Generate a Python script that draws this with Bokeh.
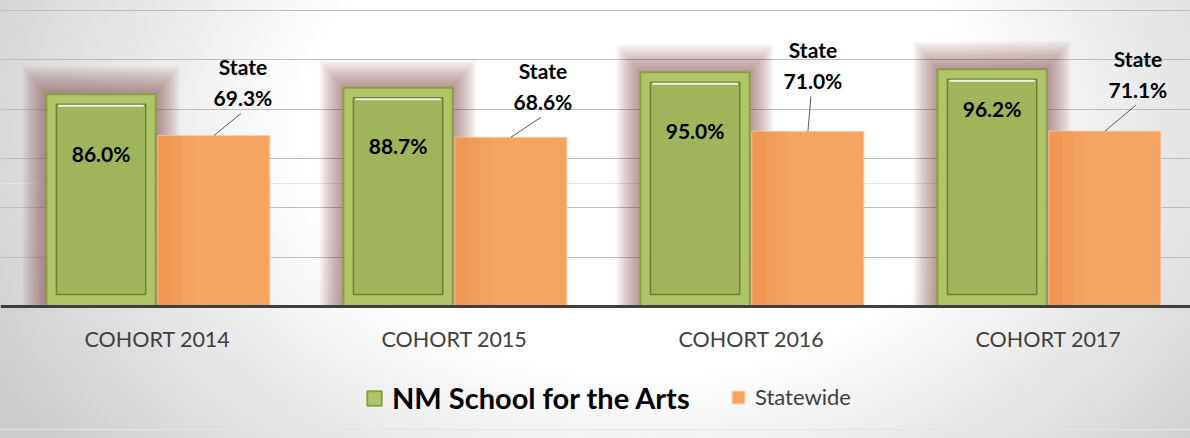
from bokeh.plotting import figure
from bokeh.models import Range1d, FixedTicker, Grid, Legend, LegendItem
from bokeh.core.properties import value
from bokeh.embed import file_html
from bokeh.resources import INLINE

# ---------------- data ----------------
categories = ["COHORT 2014", "COHORT 2015", "COHORT 2016", "COHORT 2017"]
nm_values = [86.0, 88.7, 95.0, 96.2]
state_values = [69.3, 68.6, 71.0, 71.1]
nm_labels = ["86.0%", "88.7%", "95.0%", "96.2%"]
state_labels = ["69.3%", "68.6%", "71.0%", "71.1%"]
state_tag = "State"
series_names = ["NM School for the Arts", "Statewide"]
grid_ticks = [20, 40, 60, 80, 100, 120]

# ---------------- layout / style ----------------
W, H = 1190, 438
BASE_PX = 306            # screen y of the zero line
PX_PER_CAT = 297.0
PX_PER_Y = (BASE_PX - 10) / 120.0
FIRST_CENTER_PX = 157
X_START = 0.5 - FIRST_CENTER_PX / PX_PER_CAT
X_END = X_START + W / PX_PER_CAT
Y_END = BASE_PX / PX_PER_Y
Y_START = -(H - BASE_PX) / PX_PER_Y

def px_x(px):
    return px / PX_PER_CAT

def px_y(px):
    return px / PX_PER_Y

NM_OFF, ST_OFF = -0.19, 0.19
NM_W, ST_W = 0.368, 0.377

NM_LABEL_DROP_PX = [59, 58, 58, 39]
STATE_DX_PX = [29, 32, 5, 33]
STATE_RISE_PX = [38, 36, 51, 42]
STATE_LINE_GAP_PX = 31

FONT = value("Lato")

xs = [i + 0.5 for i in range(len(categories))]
nm_x = [x + NM_OFF for x in xs]
st_x = [x + ST_OFF for x in xs]

p = figure(width=W, height=H, x_range=Range1d(X_START, X_END), y_range=Range1d(Y_START, Y_END),
           y_axis_location=None, toolbar_location=None, output_backend="svg",
           min_border=0)
p.border_fill_color = None
p.background_fill_color = None
p.outline_line_color = None
p.styles = {"background": "radial-gradient(ellipse 62% 120% at 54% 30%, #ffffff 0%, #ffffff 46%, #cccccc 100%)"}

p.xgrid.grid_line_color = None
grid = Grid(dimension=1, ticker=FixedTicker(ticks=grid_ticks), grid_line_color="#BDBDBD", grid_line_width=1)
p.add_layout(grid)

# glow behind the NM bars
N_GLOW = 14
for k in range(N_GLOW):
    p.vbar(x=nm_x, width=[NM_W + 2 * px_x((k + 1) * 1.7) for _ in nm_x],
           top=[v + px_y((k + 1) * 2.0) for v in nm_values], bottom=0,
           fill_color="#7A2626", fill_alpha=0.045, line_color=None)

# statewide bars
st_r = p.vbar(x=st_x, width=ST_W, top=state_values, bottom=0,
              fill_color="#F5A462", line_color="#FAD0AA", line_width=1)
for j, a in enumerate([0.35, 0.25, 0.15]):
    w = ST_W * (0.12 + 0.1 * j)
    p.vbar(x=[x - ST_W / 2 + w / 2 for x in st_x], width=w, top=state_values, bottom=0,
           fill_color="#E8843E", fill_alpha=a * 0.6, line_color=None)

# NM bars (beveled frame look)
nm_r = p.vbar(x=nm_x, width=NM_W, top=nm_values, bottom=0,
              fill_color="#B0C468", line_color="#8A9F45", line_width=2)
p.vbar(x=nm_x, width=NM_W - px_x(20), top=[v - px_y(10) for v in nm_values], bottom=px_y(12),
       fill_color="#9FB45B", line_color="#6F8036", line_width=1.5)
p.segment(x0=[x - NM_W / 2 + px_x(12) for x in nm_x], x1=[x + NM_W / 2 - px_x(12) for x in nm_x],
          y0=[v - px_y(11.5) for v in nm_values], y1=[v - px_y(11.5) for v in nm_values],
          line_color="white", line_width=2, line_alpha=0.85)

# NM value labels
p.text(x=nm_x, y=[v - px_y(d) for v, d in zip(nm_values, NM_LABEL_DROP_PX)], text=nm_labels,
       text_font=FONT, text_font_style="bold", text_font_size="21px",
       text_align="center", text_baseline="middle", text_color="black")

# State callout labels
lab_x = [x + px_x(dx) for x, dx in zip(st_x, STATE_DX_PX)]
pct_y = [v + px_y(r) for v, r in zip(state_values, STATE_RISE_PX)]
tag_y = [y + px_y(STATE_LINE_GAP_PX) for y in pct_y]
p.text(x=lab_x, y=pct_y, text=state_labels, text_font=FONT, text_font_style="bold",
       text_font_size="21px", text_align="center", text_baseline="middle", text_color="black")
p.text(x=lab_x, y=tag_y, text=[state_tag] * len(lab_x), text_font=FONT, text_font_style="bold",
       text_font_size="21px", text_align="center", text_baseline="middle", text_color="black")
p.segment(x0=[x - px_x(2) for x in lab_x], y0=[y - px_y(16) for y in pct_y],
          x1=st_x, y1=state_values, line_color="#595959", line_width=1)

# x axis, pinned at the zero line
ax = p.xaxis[0]
ax.fixed_location = 0
ax.ticker = FixedTicker(ticks=xs)
ax.major_label_overrides = {x: c for x, c in zip(xs, categories)}
ax.axis_line_color = "#3F3F3F"
ax.axis_line_width = 3
ax.major_tick_line_color = None
ax.minor_tick_line_color = None
ax.major_tick_out = 0
ax.major_label_standoff = 19
ax.major_label_text_font = "Lato"
ax.major_label_text_font_size = "21.5px"
ax.major_label_text_color = "#404040"

# legends
leg1 = Legend(items=[LegendItem(label=series_names[0], renderers=[nm_r])],
              location=(365, 23), orientation="horizontal", glyph_width=18, glyph_height=18,
              label_standoff=9, padding=0, margin=0, border_line_color=None,
              background_fill_alpha=0, label_text_font="Lato", label_text_font_style="bold",
              label_text_font_size="29px", label_text_color="black")
leg2 = Legend(items=[LegendItem(label=series_names[1], renderers=[st_r])],
              location=(730, 28), orientation="horizontal", glyph_width=16, glyph_height=16,
              label_standoff=9, padding=0, margin=0, border_line_color=None,
              background_fill_alpha=0, label_text_font="Lato",
              label_text_font_size="22px", label_text_color="#404040")
p.add_layout(leg1)
p.add_layout(leg2)

open("out.html", "w").write(file_html(p, INLINE))
